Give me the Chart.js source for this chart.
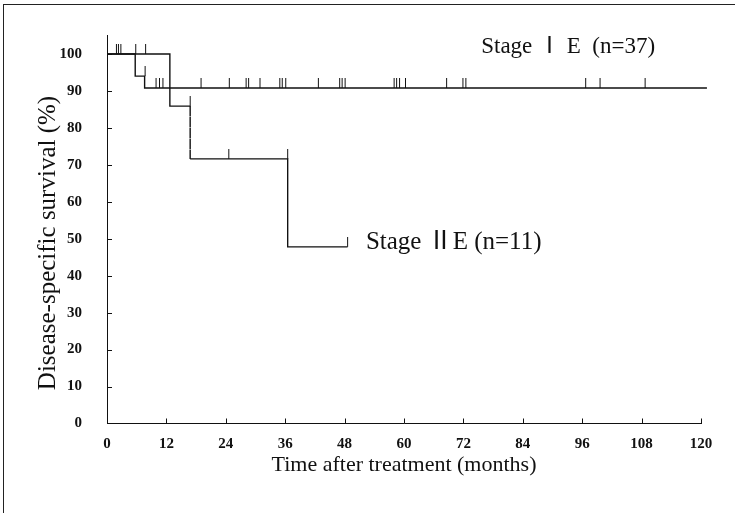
<!DOCTYPE html>
<html>
<head>
<meta charset="utf-8">
<script src="https://cdn.jsdelivr.net/npm/chart.js@4"></script>
<style>
  body { margin: 0; background: #fff; }
  #wrap { position: relative; width: 735px; height: 513px; }
  #frame { position: absolute; left: 3px; top: 4px; right: 0; bottom: 0;
           border-left: 1px solid #222; border-top: 1px solid #222; pointer-events: none; }
</style>
</head>
<body>
<div id="wrap">
  <canvas id="kmChart" width="735" height="513"></canvas>
  <div id="frame"></div>
</div>
<script>
// Kaplan-Meier steps (months, % survival)
const stage1Times = [0, 5.7, 7.6, 121.2];
const stage1Surv = [100, 94.0, 90.8, 90.8];
const stage1CensorTimes = [1.9, 2.3, 2.8, 7.7, 9.9, 10.6, 11.3, 19.0, 24.7, 28.1, 28.6, 30.9,
  34.9, 35.4, 36.1, 42.7, 47.0, 47.5, 48.1, 58.0, 58.5, 59.1, 60.3, 68.6, 71.9, 72.5,
  96.7, 99.6, 108.7];
const stage1CensorSurv = [100, 100, 100, 94.0, 90.8, 90.8, 90.8, 90.8, 90.8, 90.8, 90.8, 90.8,
  90.8, 90.8, 90.8, 90.8, 90.8, 90.8, 90.8, 90.8, 90.8, 90.8, 90.8, 90.8, 90.8, 90.8,
  90.8, 90.8, 90.8];

const stage2Times = [0, 12.7, 16.8, 36.5, 48.6];
const stage2Surv = [100, 85.9, 71.6, 47.8, 47.8];
const stage2CensorTimes = [5.8, 7.8, 16.8, 24.6, 36.5, 48.6];
const stage2CensorSurv = [100, 100, 85.9, 71.6, 71.6, 47.8];
const stage2DashedDropAt = 16.8;

const xTicks = [0, 12, 24, 36, 48, 60, 72, 84, 96, 108, 120];
const yTicks = [0, 10, 20, 30, 40, 50, 60, 70, 80, 90, 100];

const serif = '"Liberation Serif", "Times New Roman", serif';
const labelFont = '"Liberation Serif", "Noto Sans CJK JP", serif';
const ink = '#111';

function stepPoints(times, surv) {
  const pts = [{x: times[0], y: surv[0]}];
  for (let i = 1; i < times.length; i++) {
    pts.push({x: times[i], y: surv[i - 1]});
    if (surv[i] !== surv[i - 1]) pts.push({x: times[i], y: surv[i]});
  }
  return pts;
}

function censorPoints(times, surv) {
  return times.map((t, i) => ({x: t, y: surv[i]}));
}

// censor tick: vertical stroke standing on the curve
function makeTick(len) {
  const c = document.createElement('canvas');
  c.width = 3;
  c.height = len * 2;
  const g = c.getContext('2d');
  g.fillStyle = ink;
  g.fillRect(1, 0, 1, len);
  return c;
}
const tickImg = makeTick(10);

const decor = {
  id: 'decor',
  afterDraw(chart) {
    const {ctx, scales: {x, y}} = chart;
    ctx.save();
    ctx.strokeStyle = ink;
    ctx.lineWidth = 1;
    ctx.beginPath();
    x.ticks.forEach(t => {
      if (t.value === 0) return;
      const px = Math.round(x.getPixelForValue(t.value)) + 0.5;
      ctx.moveTo(px, y.bottom);
      ctx.lineTo(px, y.bottom - 5);
    });
    y.ticks.forEach(t => {
      if (t.value === 0) return;
      const py = Math.round(y.getPixelForValue(t.value)) + 0.5;
      ctx.moveTo(x.left, py);
      ctx.lineTo(x.left + 5, py);
    });
    ctx.stroke();

    ctx.fillStyle = ink;
    ctx.textBaseline = 'middle';
    ctx.textAlign = 'left';
    ctx.font = '23px ' + labelFont;
    ctx.fillText('Stage \u2160 E  (n=37)', x.getPixelForValue(75.6), y.getPixelForValue(101.9));
    ctx.font = '25px ' + labelFont;
    ctx.fillText('Stage \u2161E (n=11)', x.getPixelForValue(52.3), y.getPixelForValue(48.9));

    ctx.translate(48, 243);
    ctx.rotate(-Math.PI / 2);
    ctx.textAlign = 'center';
    ctx.font = '25px ' + serif;
    ctx.fillText('Disease-specific survival (%)', 0, 0);
    ctx.restore();
  }
};

new Chart(document.getElementById('kmChart'), {
  type: 'line',
  data: {
    datasets: [
      {
        data: stepPoints(stage1Times, stage1Surv),
        borderColor: ink, borderWidth: 1.4, pointRadius: 0, clip: false
      },
      {
        data: stepPoints(stage2Times, stage2Surv),
        borderColor: ink, borderWidth: 1.4, pointRadius: 0,
        segment: {
          borderDash: c => (c.p0.parsed.x === stage2DashedDropAt && c.p1.parsed.x === stage2DashedDropAt) ? [6, 5] : undefined
        }
      },
      {
        type: 'scatter',
        data: censorPoints(stage1CensorTimes, stage1CensorSurv),
        pointStyle: tickImg, pointRadius: 3, showLine: false
      },
      {
        type: 'scatter',
        data: censorPoints(stage2CensorTimes, stage2CensorSurv),
        pointStyle: tickImg, pointRadius: 3, showLine: false
      }
    ]
  },
  options: {
    responsive: false,
    animation: false,
    events: [],
    layout: { padding: { left: 0, top: 35.5, right: 34, bottom: 0 } },
    plugins: { legend: { display: false }, tooltip: { enabled: false } },
    scales: {
      x: {
        type: 'linear', min: 0, max: 120,
        afterBuildTicks: s => { s.ticks = xTicks.map(v => ({value: v})); },
        afterFit: s => { s.height = 89.5; },
        grid: { display: false, drawTicks: false },
        border: { display: true, color: ink, width: 1 },
        ticks: { color: ink, padding: 12, maxRotation: 0, font: { family: serif, size: 15, weight: 'bold' } },
        title: { display: true, text: 'Time after treatment (months)', color: ink,
                 font: { family: serif, size: 22 }, padding: { top: 0, bottom: 35 } }
      },
      y: {
        type: 'linear', min: 0, max: 105,
        afterBuildTicks: s => { s.ticks = yTicks.map(v => ({value: v})); },
        afterFit: s => { s.width = 107; },
        grid: { display: false, drawTicks: false },
        border: { display: true, color: ink, width: 1 },
        ticks: { color: ink, padding: 25, font: { family: serif, size: 15, weight: 'bold' } }
      }
    }
  },
  plugins: [decor]
});
</script>
</body>
</html>
